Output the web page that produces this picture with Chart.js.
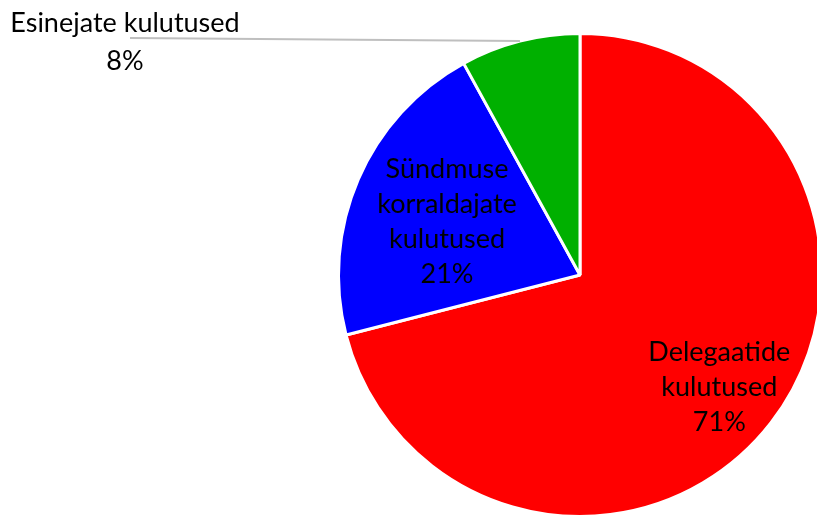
<!DOCTYPE html>
<html>
<head>
<meta charset="utf-8">
<script src="https://cdn.jsdelivr.net/npm/chart.js@4"></script>
<style>
  html, body { margin: 0; padding: 0; background: #fff; overflow: hidden; }
  #wrap { position: absolute; left: 0; top: 0; width: 823px; height: 518px; }
</style>
</head>
<body>
<div id="wrap"><canvas id="myChart"></canvas></div>
<script>
// slice names (each line of the label) and shares in percent
const labels = [
  ['Delegaatide', 'kulutused'],
  ['Sündmuse', 'korraldajate', 'kulutused'],
  ['Esinejate kulutused']
];
const values = [71, 21, 8];
const colors = ['#ff0000', '#0000ff', '#00b000'];

// where each label goes: fraction of radius inside the slice, or 'outside'
const labelPlace = [0.73, 0.6, 'outside'];

const FONT = '27px Lato, "Open Sans", sans-serif';
const LINE = 35;

// draws the data labels (no datalabels plugin here)
const sliceLabels = {
  id: 'sliceLabels',
  afterDatasetsDraw(chart) {
    const ctx = chart.ctx;
    const meta = chart.getDatasetMeta(0);
    const total = values.reduce((a, b) => a + b, 0);
    ctx.save();
    ctx.font = FONT;
    ctx.fillStyle = '#000';
    ctx.textAlign = 'center';
    ctx.textBaseline = 'middle';
    meta.data.forEach((arc, i) => {
      const p = arc.getProps(['x', 'y', 'startAngle', 'endAngle', 'outerRadius'], true);
      const mid = (p.startAngle + p.endAngle) / 2;
      const lines = labels[i].concat([Math.round(values[i] / total * 100) + '%']);
      if (labelPlace[i] === 'outside') {
        // label sits up left, leader line runs to the slice edge
        const ex = p.x + Math.cos(mid) * p.outerRadius;
        const ey = p.y + Math.sin(mid) * p.outerRadius;
        ctx.strokeStyle = '#bfbfbf';
        ctx.lineWidth = 2;
        ctx.beginPath();
        ctx.moveTo(130, 38);
        ctx.lineTo(ex, ey);
        ctx.stroke();
        lines.forEach((t, k) => ctx.fillText(t, 125, 23 + k * 38));
        return;
      }
      const r = p.outerRadius * labelPlace[i];
      const cx = p.x + Math.cos(mid) * r;
      const cy = p.y + Math.sin(mid) * r + 4;
      const top = cy - (lines.length - 1) * LINE / 2;
      lines.forEach((t, k) => ctx.fillText(t, cx, top + k * LINE));
    });
    ctx.restore();
  }
};

const data = {
  labels: labels,
  datasets: [{
    data: values,
    backgroundColor: colors,
    borderColor: '#ffffff',
    borderWidth: 3
  }]
};

const config = {
  type: 'pie',
  data: data,
  options: {
    responsive: true,
    maintainAspectRatio: false,
    animation: false,
    layout: { padding: { left: 337, top: 32, right: 0, bottom: 0 } },
    plugins: {
      legend: { display: false },
      tooltip: { enabled: false }
    }
  },
  plugins: [sliceLabels]
};

const myChart = new Chart(document.getElementById('myChart'), config);
</script>
</body>
</html>
